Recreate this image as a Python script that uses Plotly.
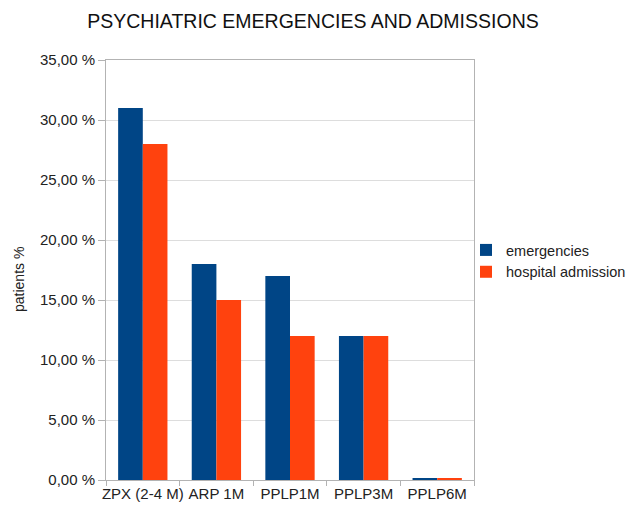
import plotly.graph_objects as go

categories = ["ZPX (2-4 M)", "ARP 1M", "PPLP1M", "PPLP3M", "PPLP6M"]
emergencies = [31.0, 18.0, 17.0, 12.0, 0.1]
hospital_admission = [28.0, 15.0, 12.0, 12.0, 0.1]
y_ticks = [0, 5, 10, 15, 20, 25, 30, 35]
y_tick_labels = ["0,00 %", "5,00 %", "10,00 %", "15,00 %", "20,00 %", "25,00 %", "30,00 %", "35,00 %"]

fig = go.Figure()
fig.add_trace(go.Bar(x=categories, y=emergencies, name="emergencies",
                     marker=dict(color="#004586", line=dict(width=0))))
fig.add_trace(go.Bar(x=categories, y=hospital_admission, name="hospital admission",
                     marker=dict(color="#ff420e", line=dict(width=0))))

# page body has an 8px default margin, so the figure is sized 628x500
W, H = 628, 500
L, T, PW, PH = 98, 52, 368, 420
font = "Liberation Sans, Arial, sans-serif"
fig.update_layout(
    width=W, height=H,
    margin=dict(l=L, r=W - L - PW, t=T, b=H - T - PH, autoexpand=False),
    paper_bgcolor="white", plot_bgcolor="white",
    barmode="group", bargap=0.33, bargroupgap=0,
    font=dict(family=font, size=15, color="#222222"),
    title=dict(text="PSYCHIATRIC EMERGENCIES AND ADMISSIONS", x=305 / W, xanchor="center",
               xref="container", y=1 - 13 / H, yanchor="middle",
               font=dict(family=font, size=19.5, color="#111111")),
    legend=dict(x=1 - 8 / PW, y=0.5 + 9 / PH, xanchor="left", yanchor="middle",
                font=dict(family=font, size=14.5, color="#222222"),
                bgcolor="rgba(0,0,0,0)", itemwidth=30, tracegroupgap=0),
    showlegend=True,
    annotations=[dict(text="patients %", textangle=-90, showarrow=False,
                      xref="paper", yref="paper", x=-(L - 1) / PW, y=(T + PH - 272) / PH,
                      xanchor="left", yanchor="middle",
                      font=dict(family=font, size=14, color="#222222"))],
)
fig.update_yaxes(range=[0, 35], tickvals=y_ticks, ticktext=y_tick_labels,
                 showgrid=True, gridcolor="#dddddd", gridwidth=1,
                 showline=True, linecolor="#b3b3b3", linewidth=1, mirror=True,
                 ticks="outside", ticklen=7, tickcolor="#b3b3b3",
                 zeroline=False, automargin=False)
fig.update_xaxes(showline=True, linecolor="#b3b3b3", linewidth=1, mirror=True,
                 ticks="outside", ticklen=5, tickcolor="#b3b3b3", tickson="boundaries",
                 tickangle=0, automargin=False, showgrid=False)

fig.write_html("out.html")
